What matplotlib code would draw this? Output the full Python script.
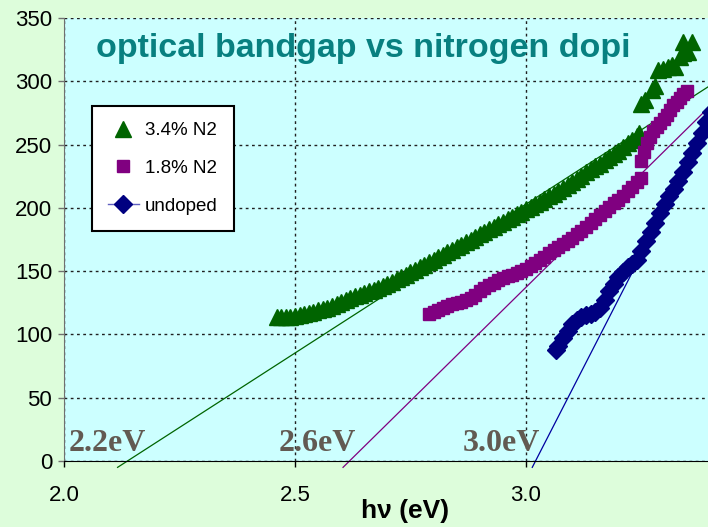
"""
Optical bandgap vs nitrogen doping, (alpha*h*nu)^2 style plot with fit lines
"""

import matplotlib
matplotlib.use('Agg')
from matplotlib import pyplot as plt
from matplotlib.ticker import FormatStrFormatter

# 3.4% N2 (triangles)
n34_x = [2.46, 2.47, 2.48, 2.49, 2.50, 2.51, 2.52, 2.53, 2.54, 2.55,
         2.56, 2.57, 2.58, 2.59, 2.60, 2.61, 2.62, 2.63, 2.64, 2.65,
         2.66, 2.67, 2.68, 2.69, 2.70, 2.71, 2.72, 2.73, 2.74, 2.75,
         2.76, 2.77, 2.78, 2.79, 2.80, 2.81, 2.82, 2.83, 2.84, 2.85,
         2.86, 2.87, 2.88, 2.89, 2.90, 2.91, 2.92, 2.93, 2.94, 2.95,
         2.96, 2.97, 2.98, 2.99, 3.00, 3.01, 3.02, 3.03, 3.04, 3.05,
         3.06, 3.07, 3.08, 3.09, 3.10, 3.11, 3.12, 3.13, 3.14, 3.15,
         3.16, 3.17, 3.18, 3.19, 3.20, 3.21, 3.22, 3.23, 3.24, 3.245,
         3.250, 3.258, 3.272, 3.279, 3.286, 3.297, 3.308, 3.315, 3.322,
         3.333, 3.340, 3.351, 3.340, 3.359]
n34_y = [114, 114, 114, 114, 114.5, 115, 116, 117, 118, 119,
         120, 121, 122.5, 124, 125.5, 127, 128.5, 130, 131, 132.5,
         134, 135.5, 137, 138.5, 140, 141.5, 143.5, 145, 147, 149,
         151, 153, 155, 157, 159, 161, 163, 165, 167, 169,
         171, 173, 175, 177, 179, 181, 183, 185, 187, 189,
         191, 193, 195, 197, 199, 201, 203, 205, 207, 209,
         211, 213, 215.5, 218, 220.5, 223, 225.5, 228, 230.5, 233,
         235, 237.5, 240, 242.5, 245, 248, 251, 254, 257, 259,
         282, 285, 293, 296, 309, 310, 311.5, 313, 311.5,
         319, 322, 323, 331, 331]

# 1.8% N2 (squares)
n18_x = [2.79, 2.80, 2.81, 2.82, 2.83, 2.84, 2.85, 2.86, 2.87, 2.88,
         2.89, 2.90, 2.91, 2.92, 2.93, 2.94, 2.95, 2.96, 2.97, 2.98,
         2.99, 3.00, 3.01, 3.02, 3.03, 3.04, 3.05, 3.06, 3.07, 3.08,
         3.09, 3.10, 3.11, 3.12, 3.13, 3.14, 3.15, 3.16, 3.17, 3.18,
         3.19, 3.20, 3.21, 3.22, 3.23, 3.24, 3.25,
         3.250, 3.255, 3.261, 3.268, 3.276, 3.283, 3.290, 3.298, 3.305,
         3.312, 3.319, 3.326, 3.333, 3.340, 3.348]
n18_y = [116, 117.5, 119, 121, 122.5, 124, 124.5, 125.5, 127, 129,
         131.5, 134, 136.5, 139, 141, 143, 144.5, 146, 147, 148.5,
         150, 152, 154, 156.5, 159, 161.5, 164, 166.5, 169, 171.5,
         174, 176.5, 179, 182, 185, 188, 191, 194, 197.5, 200.5,
         203.5, 206.5, 209.5, 213, 216.5, 220.5, 224,
         237, 244, 251, 256, 261, 264, 267, 270, 273,
         277, 281, 284, 287, 290, 292]

# undoped (diamonds + line)
und_x = [3.066, 3.07, 3.08, 3.09, 3.10, 3.11, 3.12, 3.13, 3.14, 3.15,
         3.16, 3.17, 3.18, 3.19, 3.20, 3.21, 3.22, 3.23, 3.24, 3.25,
         3.26, 3.27, 3.28, 3.29, 3.30, 3.31, 3.32, 3.33, 3.34, 3.35,
         3.36, 3.37, 3.38, 3.39, 3.40]
und_y = [88, 91, 97, 103, 108, 111.5, 113.5, 115, 116, 117.5,
         121, 127, 134, 140, 145, 149.5, 153, 156, 159, 166,
         174, 181, 188, 196, 203, 209, 215, 221, 228, 236,
         243, 251, 259, 268, 276]

# linear extrapolations to the x axis (end points)
fit_n34_x = [2.116, 3.40]
fit_n34_y = [-5, 297]
fit_n18_x = [2.604, 3.40]
fit_n18_y = [-5, 281]
fit_und_x = [3.0136, 3.40]
fit_und_y = [-5, 270]

gap_labels = ['2.2eV', '2.6eV', '3.0eV']
gap_label_x = [2.01, 2.464, 2.862]

GREEN = '#006400'
PURPLE = '#800080'
NAVY = '#000080'

fig = plt.figure(figsize=(7.08, 5.27), dpi=100, facecolor='#DDFDDB')
ax = fig.add_axes([0.0904, 0.1252, 0.9096, 0.8406], facecolor='#CCFFFF')

ax.plot(fit_n34_x, fit_n34_y, color=GREEN, lw=0.9, clip_on=False, zorder=2)
ax.plot(fit_n18_x, fit_n18_y, color=PURPLE, lw=0.9, clip_on=False, zorder=2)
ax.plot(fit_und_x, fit_und_y, color='#0000a0', lw=0.9, clip_on=False, zorder=2)

ax.plot(n34_x, n34_y, ls='none', marker='^', ms=11.5, color=GREEN, mec=GREEN,
        label='3.4% N2', zorder=3)
ax.plot(n18_x, n18_y, ls='none', marker='s', ms=9, color=PURPLE, mec=PURPLE,
        label='1.8% N2', zorder=3)
ax.plot(und_x, und_y, ls='-', lw=1, marker='D', ms=9, color=NAVY, mec=NAVY,
        label='undoped', zorder=3)

ax.set_xlim(2.0, 3.394)
ax.set_ylim(0, 350)
ax.set_xticks([2.0, 2.5, 3.0])
ax.set_yticks(range(0, 351, 50))
ax.xaxis.set_major_formatter(FormatStrFormatter('%.1f'))
ax.grid(True, color='#202020', ls=(0, (2, 2.5)), lw=1)
ax.set_axisbelow(True)

for side in ['top', 'right']:
    ax.spines[side].set_visible(False)
ax.spines['left'].set_color('#707070')
ax.spines['bottom'].set_color('black')
ax.tick_params(axis='both', direction='out', length=4.5, width=1,
               labelsize=16, colors='black')
ax.tick_params(axis='y', pad=4, color='#707070')
ax.tick_params(axis='x', pad=13)
for lbl in ax.get_xticklabels() + ax.get_yticklabels():
    lbl.set_fontfamily('Liberation Sans')

# axis title sits right of centre in the original
fig.text(405 / 708, 16 / 527, 'h\u03bd (eV)', fontsize=19, fontweight='bold',
         fontfamily='Liberation Sans', ha='center', va='center')

for txt, xx in zip(gap_labels, gap_label_x):
    ax.text(xx, 2, txt, fontsize=23, fontweight='bold',
            fontfamily='Liberation Serif', color='#625a52',
            ha='left', va='bottom', zorder=4)

fig.text(0.136, 0.892, 'optical bandgap vs nitrogen dopi', fontsize=24.5,
         fontweight='bold', fontfamily='Liberation Sans', color='#088080',
         ha='left', va='baseline')

leg = ax.legend(loc='upper left', bbox_to_anchor=(0.0435, 0.801),
                borderaxespad=0, fancybox=False, framealpha=1,
                edgecolor='black', labelspacing=1.1,
                handlelength=1.65, handletextpad=0.32, borderpad=0.85,
                prop={'family': 'Liberation Sans', 'size': 13.5})
leg.get_frame().set_linewidth(1.5)
leg.get_lines()[2].set_color('#6060c0')
leg.get_lines()[2].set_markerfacecolor(NAVY)
leg.get_lines()[2].set_markeredgecolor(NAVY)

fig.savefig('out.png', dpi=100, facecolor=fig.get_facecolor())
